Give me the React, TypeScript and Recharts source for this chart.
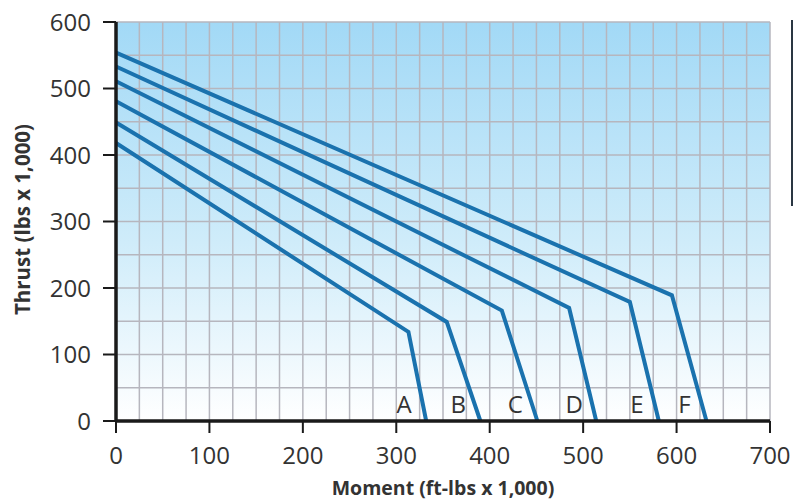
import { LineChart, Line, XAxis, YAxis, CartesianGrid, LabelList, ReferenceLine } from 'recharts'

// curve letters and their three points: start on the thrust axis, knee, end on the moment axis
const curveNames = ['A', 'B', 'C', 'D', 'E', 'F']
const startThrust = [418, 449, 481, 511, 533, 554]
const kneeMoment = [313, 354, 413, 485, 550, 595]
const kneeThrust = [134, 149, 166, 170, 179, 189]
const endMoment = [332, 390, 451, 514, 581, 632]

const xTicks = [0, 100, 200, 300, 400, 500, 600, 700]
const yTicks = [0, 100, 200, 300, 400, 500, 600]
const gridX = [25, 50, 75, 100, 125, 150, 175, 200, 225, 250, 275, 300, 325, 350, 375, 400, 425, 450, 475, 500, 525, 550, 575, 600, 625, 650, 675, 700]
const gridY = [50, 100, 150, 200, 250, 300, 350, 400, 450, 500, 550, 600]

const lineColor = '#1a72ae'
const gridColor = '#b6b6be'
const textColor = '#333'
const font = '"Open Sans", "Noto Sans", sans-serif'

const curves = curveNames.map((name, i) => ({
  name,
  points: [
    { x: 0, y: startThrust[i] },
    { x: kneeMoment[i], y: kneeThrust[i] },
    { x: endMoment[i], y: 0 },
  ],
}))

const letterLabel = (letter: string) => (props: any) => {
  const { x, y, index } = props
  if (index !== 2) return null
  return (
    <text x={x - 22} y={y - 8} textAnchor="middle" fontSize={24} fill={textColor} fontFamily={font}>
      {letter}
    </text>
  )
}

const YTitle = (props: any) => {
  const { x, y, height } = props.viewBox
  const cx = x + 22
  const cy = y + height / 2 - 2
  return (
    <text x={cx} y={cy} transform={`rotate(-90 ${cx} ${cy})`} textAnchor="middle" dominantBaseline="central"
      fontSize={20.5} fontWeight="bold" fill={textColor} fontFamily={font}>
      Thrust (lbs x 1,000)
    </text>
  )
}

const XTitle = (props: any) => {
  const { x, y, width } = props.viewBox
  return (
    <text x={x + width / 2} y={y + 74} textAnchor="middle" fontSize={19.5} fontWeight="bold" fill={textColor} fontFamily={font}>
      Moment (ft-lbs x 1,000)
    </text>
  )
}

export default function App() {
  return (
    <div style={{ position: 'absolute', left: 0, top: 0, width: 793, height: 502, background: '#fff' }}>
      <LineChart width={793} height={502} margin={{ top: 22, right: 23, left: 0, bottom: 0 }} style={{ fontFamily: font }}>
        <defs>
          <linearGradient id="plotBg" x1="0" y1="0" x2="0" y2="1">
            <stop offset="0%" stopColor="#a2d9f6" />
            <stop offset="55%" stopColor="#cfecfa" />
            <stop offset="100%" stopColor="#ffffff" />
          </linearGradient>
        </defs>
        <CartesianGrid fill="url(#plotBg)" fillOpacity={1} horizontal={false} vertical={false} />
        <XAxis
          type="number"
          dataKey="x"
          domain={[0, 700]}
          ticks={xTicks}
          interval={0}
          height={81}
          axisLine={{ stroke: '#1a1a1a', strokeWidth: 3.5 }}
          tickLine={{ stroke: '#1a1a1a', strokeWidth: 2 }}
          tickSize={12}
          tickMargin={14}
          tick={{ fill: textColor, fontSize: 24 }}
          label={{ content: XTitle }}
        />
        <YAxis
          type="number"
          domain={[0, 600]}
          ticks={yTicks}
          interval={0}
          width={116}
          axisLine={{ stroke: '#1a1a1a', strokeWidth: 3.5 }}
          tickLine={{ stroke: '#1a1a1a', strokeWidth: 2 }}
          tickSize={13}
          tickMargin={12}
          tick={{ fill: textColor, fontSize: 24 }}
          label={{ content: YTitle }}
        />
        {gridX.map((v) => (
          <ReferenceLine key={`gx${v}`} x={v} stroke={gridColor} strokeWidth={1.5} />
        ))}
        {gridY.map((v) => (
          <ReferenceLine key={`gy${v}`} y={v} stroke={gridColor} strokeWidth={1.5} />
        ))}
        {curves.map((c) => (
          <Line
            key={c.name}
            data={c.points}
            dataKey="y"
            type="linear"
            stroke={lineColor}
            strokeWidth={4}
            dot={false}
            activeDot={false}
            isAnimationActive={false}
          >
            <LabelList dataKey="y" content={letterLabel(c.name)} />
          </Line>
        ))}
      </LineChart>
      <div style={{ position: 'absolute', left: 791, top: 20, width: 2, height: 186, background: '#2a3642' }} />
    </div>
  )
}
